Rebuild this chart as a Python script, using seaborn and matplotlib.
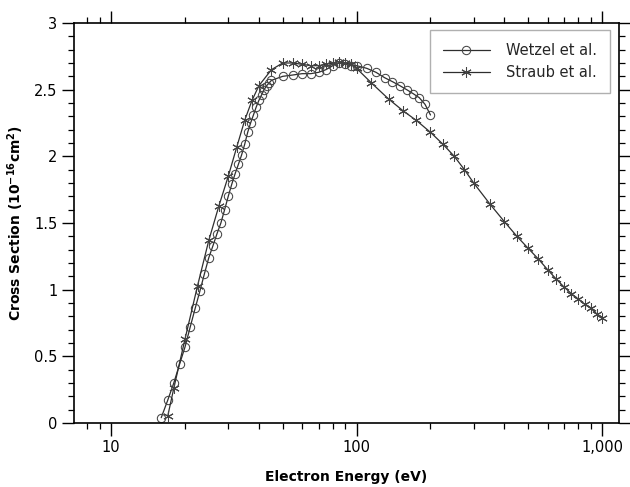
import pandas as pd
import matplotlib
matplotlib.use("Agg")
import matplotlib.pyplot as plt
from matplotlib.ticker import FixedLocator, NullFormatter, FixedFormatter
import seaborn as sns

# Wetzel et al. (open circles)
wetzel_energy = [16, 17, 18, 19, 20, 21, 22, 23, 24, 25, 26, 27, 28, 29, 30,
                 31, 32, 33, 34, 35, 36, 37, 38, 39, 40, 41, 42, 43, 44, 45,
                 50, 55, 60, 65, 70, 75, 80, 85, 90, 95, 100,
                 110, 120, 130, 140, 150, 160, 170, 180, 190, 200]
wetzel_sigma = [0.04, 0.17, 0.30, 0.44, 0.57, 0.72, 0.86, 0.99, 1.12, 1.24, 1.33, 1.42, 1.50, 1.60, 1.70,
                1.79, 1.87, 1.94, 2.01, 2.09, 2.18, 2.25, 2.31, 2.37, 2.42, 2.46, 2.50, 2.53, 2.55, 2.57,
                2.60, 2.61, 2.62, 2.62, 2.63, 2.65, 2.68, 2.70, 2.69, 2.68, 2.68,
                2.66, 2.63, 2.59, 2.56, 2.53, 2.50, 2.47, 2.44, 2.39, 2.31]

# Straub et al. (asterisks)
straub_energy = [17, 18, 20, 22.5, 25, 27.5, 30, 32.5, 35, 37.5, 40, 45, 50, 55, 60, 65, 70, 75,
                 80, 85, 90, 95, 100, 115, 135, 155, 175, 200, 225, 250, 275, 300, 350, 400,
                 450, 500, 550, 600, 650, 700, 750, 800, 850, 900, 950, 1000]
straub_sigma = [0.05, 0.26, 0.63, 1.03, 1.37, 1.63, 1.85, 2.07, 2.27, 2.42, 2.53, 2.65, 2.70, 2.70,
                2.69, 2.68, 2.68, 2.69, 2.70, 2.71, 2.70, 2.69, 2.66, 2.55, 2.43, 2.34, 2.27, 2.18,
                2.09, 2.00, 1.90, 1.80, 1.64, 1.51, 1.40, 1.31, 1.23, 1.15, 1.08, 1.02, 0.97,
                0.93, 0.89, 0.86, 0.82, 0.79]

x_ticks = [10.0, 100.0, 1000.0]
x_tick_labels = ["10", "100", "1,000"]
y_ticks = [0, 0.5, 1, 1.5, 2, 2.5, 3]
y_tick_labels = ["0", "0.5", "1", "1.5", "2", "2.5", "3"]

wetzel_df = pd.DataFrame({"energy": wetzel_energy, "sigma": wetzel_sigma})
straub_df = pd.DataFrame({"energy": straub_energy, "sigma": straub_sigma})

sns.set_theme(style="ticks", rc={
    "axes.linewidth": 1.2, "axes.edgecolor": "black",
    "xtick.top": True, "ytick.right": True,
    "xtick.direction": "out", "ytick.direction": "out",
    "xtick.major.size": 9, "ytick.major.size": 9,
    "xtick.minor.size": 4.5, "ytick.minor.size": 4.5,
    "xtick.major.width": 1.0, "ytick.major.width": 1.0,
    "xtick.minor.width": 0.9, "ytick.minor.width": 0.9,
    "xtick.color": "black", "ytick.color": "black",
    "xtick.labelsize": 10.5, "ytick.labelsize": 10.5,
    "xtick.major.pad": 3, "ytick.major.pad": 3,
})
plt.rcParams["font.family"] = ["DejaVu Sans"]

fig = plt.figure(figsize=(6.3, 4.87), dpi=100)
ax = fig.add_axes([74 / 630, 1 - 423 / 487, 545 / 630, 400 / 487])

# set the log scale before drawing the lines
ax.set_xscale("log")
ax.set_xlim(7.06, 1172)
ax.set_ylim(0, 3)

ink = "#2e2e2e"
line_kw = dict(color=ink, linewidth=0.9, markerfacecolor="none", markeredgecolor="#444444",
               markeredgewidth=0.75, errorbar=None)
sns.lineplot(data=wetzel_df, x="energy", y="sigma", marker="o", markersize=6,
             label="Wetzel et al.", ax=ax, **line_kw)
sns.lineplot(data=straub_df, x="energy", y="sigma", marker=(6, 2, 0), markersize=7.5,
             label="Straub et al.", ax=ax, **line_kw)

ax.set_xlim(7.06, 1172)
ax.set_ylim(0, 3)
minor_x = [float(m * 10 ** d) for d in (0, 1, 2) for m in range(2, 10)]
ax.xaxis.set_major_locator(FixedLocator(x_ticks))
ax.xaxis.set_major_formatter(FixedFormatter(x_tick_labels))
ax.xaxis.set_minor_locator(FixedLocator(minor_x))
ax.xaxis.set_minor_formatter(NullFormatter())
ax.set_yticks(y_ticks)
ax.set_yticklabels(y_tick_labels)
ax.yaxis.set_minor_locator(FixedLocator([i / 10 for i in range(31)]))

ax.set_xlabel("Electron Energy (eV)", fontsize=10, fontweight="bold", labelpad=11, color="black")
ax.set_ylabel(r"Cross Section (10$^{\mathbf{-16}}$cm$^{\mathbf{2}}$)", fontsize=10,
              fontweight="bold", labelpad=6, color="black")

leg = ax.legend(loc="upper right", bbox_to_anchor=(0.983, 0.9825), borderaxespad=0,
                frameon=True, fancybox=False, edgecolor="#b0b0b0", framealpha=1,
                fontsize=10.5, handlelength=3.2, handletextpad=1.1, labelspacing=0.45,
                borderpad=0.9)
leg.get_frame().set_linewidth(1.0)

# draw once, then re-apply tick styling so every tick object gets it
fig.canvas.draw()
ax.tick_params(which="major", direction="out", length=9, width=1.0, color="black",
               top=True, right=True)
ax.tick_params(which="minor", direction="out", length=4.5, width=0.9, color="black",
               top=True, right=True)
for t in ax.xaxis.get_minor_ticks() + ax.xaxis.get_major_ticks():
    t.tick1line.set_visible(True)
    t.tick2line.set_visible(True)

fig.savefig("out.png", dpi=100)
plt.close()
